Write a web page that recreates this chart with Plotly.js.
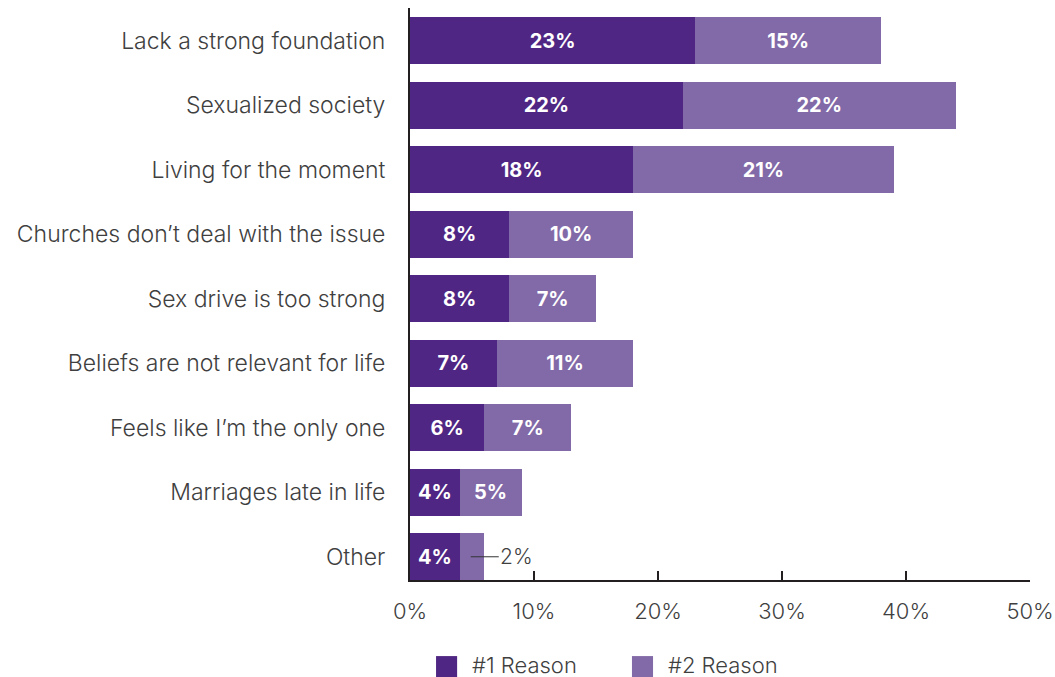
<!DOCTYPE html>
<html>
<head>
<meta charset="utf-8">
<script src="https://cdn.plot.ly/plotly-3.0.1.min.js"></script>
<style>
html,body{margin:0;padding:0;background:#fff;}
#chart{width:1055px;height:677px;}
</style>
</head>
<body>
<div id="chart"></div>
<script>
const categories = [
  "Lack a strong foundation",
  "Sexualized society",
  "Living for the moment",
  "Churches don\u2019t deal with the issue",
  "Sex drive is too strong",
  "Beliefs are not relevant for life",
  "Feels like I\u2019m the only one",
  "Marriages late in life",
  "Other"
];
const reason1 = [23, 22, 18, 8, 8, 7, 6, 4, 4];
const reason2 = [15, 22, 21, 10, 7, 11, 7, 5, 2];
const seriesNames = ["#1 Reason", "#2 Reason"];
const tickVals = [0, 10, 20, 30, 40, 50];
const tickLabels = ["0%", "10%", "20%", "30%", "40%", "50%"];

const c1 = "#4f2683", c2 = "#826aa8";
const FONT = "Inter, 'Noto Sans', sans-serif";
const TXT = "#3f3f3f";

// Labels too small to hold text inside the bar get an outside callout
const outsideIdx = reason2.map((v, i) => v < 3 ? i : -1).filter(i => i >= 0);
const text1 = reason1.map(v => v + "%");
const text2 = reason2.map((v, i) => outsideIdx.includes(i) ? "" : v + "%");

const traces = [
  {type: "bar", orientation: "h", y: categories, x: reason1, name: seriesNames[0],
   marker: {color: c1}, text: text1, textposition: "inside", insidetextanchor: "middle",
   textfont: {family: FONT, size: 20, color: "#fff", weight: 700}, hoverinfo: "x+y", width: 0.73},
  {type: "bar", orientation: "h", y: categories, x: reason2, name: seriesNames[1],
   marker: {color: c2}, text: text2, textposition: "inside", insidetextanchor: "middle",
   textfont: {family: FONT, size: 20, color: "#fff", weight: 700}, hoverinfo: "x+y", width: 0.73}
];

const annotations = outsideIdx.map(i => ({
  x: reason1[i] + reason2[i] * 0.45, y: categories[i], xref: "x", yref: "y",
  text: reason2[i] + "%", showarrow: true, arrowhead: 0, arrowwidth: 1, arrowcolor: "#333",
  ax: 46, ay: 0, standoff: 0, font: {family: FONT, size: 21, color: TXT, weight: 300}
}));

// custom legend with large swatches
const shapes = [];
const legX = [0.042, 0.358];
seriesNames.forEach((n, k) => {
  shapes.push({type: "rect", xref: "paper", yref: "paper",
    x0: legX[k], x1: legX[k] + 0.034, y0: -0.170, y1: -0.133,
    fillcolor: [c1, c2][k], line: {width: 0}});
  annotations.push({xref: "paper", yref: "paper", x: legX[k] + 0.055, y: -0.148,
    xanchor: "left", yanchor: "middle", text: n, showarrow: false,
    font: {family: FONT, size: 22, color: TXT, weight: 300}});
});

const layout = {
  width: 1055, height: 677,
  margin: {l: 410, r: 25, t: 8, b: 97},
  barmode: "stack",
  showlegend: false,
  paper_bgcolor: "#fff", plot_bgcolor: "#fff",
  font: {family: FONT, color: TXT},
  xaxis: {range: [0, 50], tickvals: tickVals, ticktext: tickLabels,
    showgrid: false, zeroline: false, showline: true, linecolor: "#231f20", linewidth: 2,
    ticks: "inside", ticklen: 9, tickwidth: 2, tickcolor: "#231f20",
    tickfont: {family: FONT, size: 22, color: TXT, weight: 300}, ticklabelstandoff: 11},
  yaxis: {type: "category", categoryorder: "array", categoryarray: categories,
    range: [8.36, -0.51], showgrid: false, zeroline: false, showline: true,
    linecolor: "#231f20", linewidth: 2, ticks: "", ticklabelstandoff: 18,
    tickfont: {family: FONT, size: 23, color: TXT, weight: 300}},
  annotations: annotations,
  shapes: shapes
};

Plotly.newPlot("chart", traces, layout, {displayModeBar: false, staticPlot: true});
</script>
</body>
</html>
